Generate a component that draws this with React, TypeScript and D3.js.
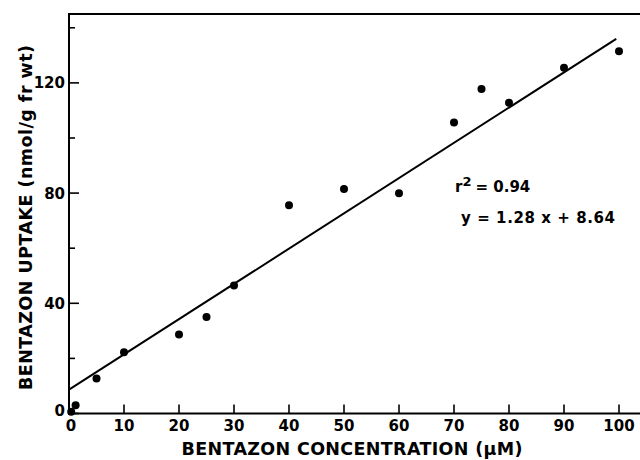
import * as d3 from "d3";
import { useEffect, useRef } from "react";

// concentration (µM) and uptake (nmol/g fr wt)
const concentration = [0.4, 1.2, 5, 10, 20, 25, 30, 40, 50, 60, 70, 75, 80, 90, 100];
const uptake = [0.6, 3, 12.7, 22.2, 28.7, 35, 46.5, 75.6, 81.5, 79.9, 105.6, 117.8, 112.8, 125.5, 131.5];

const xTicks = [0, 10, 20, 30, 40, 50, 60, 70, 80, 90, 100];
const yMajorTicks = [0, 40, 80, 120];
const yMinorTicks = [20, 60, 100, 140];

const slope = 1.28;
const intercept = 8.64;
const fitRange = [0, 99.5];

const W = 640;
const H = 460;
const FONT = "'DejaVu Sans', 'Liberation Sans', sans-serif";

export default function App() {
  const ref = useRef<SVGSVGElement | null>(null);

  useEffect(() => {
    const svg = d3.select(ref.current);
    svg.selectAll("*").remove();

    const x = d3.scaleLinear().domain([0, 100]).range([69, 619]);
    const y = d3.scaleLinear().domain([0, 145]).range([413.5, 14]);

    const g = svg.append("g").attr("stroke", "#000").attr("fill", "none");

    // frame: bottom axis, left axis, top border (right side cut off)
    g.append("path")
      .attr("stroke-width", 2)
      .attr("d", `M${W},${y(0)}H${x(0)}V${y(145)}H${W}`);

    // x ticks point inward
    g.selectAll("line.xt")
      .data(xTicks)
      .join("line")
      .attr("class", "xt")
      .attr("stroke-width", 1.6)
      .attr("x1", (d) => x(d))
      .attr("x2", (d) => x(d))
      .attr("y1", y(0))
      .attr("y2", y(0) - 9);

    g.selectAll("line.yt")
      .data(yMajorTicks)
      .join("line")
      .attr("class", "yt")
      .attr("stroke-width", 1.6)
      .attr("x1", x(0))
      .attr("x2", x(0) + 10)
      .attr("y1", (d) => y(d))
      .attr("y2", (d) => y(d));

    g.selectAll("line.ym")
      .data(yMinorTicks)
      .join("line")
      .attr("class", "ym")
      .attr("stroke-width", 1.6)
      .attr("x1", x(0))
      .attr("x2", x(0) + 6)
      .attr("y1", (d) => y(d))
      .attr("y2", (d) => y(d));

    // regression line
    const line = d3
      .line<number>()
      .x((d) => x(d))
      .y((d) => y(slope * d + intercept));
    g.append("path").attr("stroke-width", 2).attr("d", line(fitRange));

    // points
    svg
      .append("g")
      .selectAll("circle")
      .data(concentration)
      .join("circle")
      .attr("cx", (d) => x(d))
      .attr("cy", (_, i) => y(uptake[i]))
      .attr("r", 4)
      .attr("fill", "#000");

    const txt = svg
      .append("g")
      .attr("font-family", FONT)
      .attr("font-weight", "bold")
      .attr("fill", "#000");

    txt
      .selectAll("text.xl")
      .data(xTicks)
      .join("text")
      .attr("class", "xl")
      .attr("x", (d) => x(d) + (d === 0 ? 2 : 0))
      .attr("y", 431)
      .attr("text-anchor", "middle")
      .attr("font-size", 15)
      .text((d) => d);

    txt
      .selectAll("text.yl")
      .data(yMajorTicks)
      .join("text")
      .attr("class", "yl")
      .attr("x", 65)
      .attr("y", (d) => y(d) + (d === 0 ? 2 : 5.5))
      .attr("text-anchor", "end")
      .attr("font-size", 15)
      .text((d) => d);

    // axis titles
    txt
      .append("text")
      .attr("x", 352)
      .attr("y", 455)
      .attr("text-anchor", "middle")
      .attr("font-size", 17.5)
      .attr("textLength", 341)
      .attr("lengthAdjust", "spacing")
      .text("BENTAZON CONCENTRATION (µM)");

    txt
      .append("text")
      .attr("transform", `translate(32,217.5) rotate(-90)`)
      .attr("text-anchor", "middle")
      .attr("font-size", 17.5)
      .attr("textLength", 345)
      .attr("lengthAdjust", "spacing")
      .text("BENTAZON UPTAKE (nmol/g fr wt)");

    // annotation
    const r2 = txt.append("text").attr("x", 455).attr("y", 192).attr("font-size", 15);
    r2.append("tspan").text("r");
    r2.append("tspan").attr("dy", -6).attr("font-size", 13).text("2");
    r2.append("tspan").attr("dy", 6).attr("dx", 4).text("= 0.94");

    txt
      .append("text")
      .attr("x", 461)
      .attr("y", 223)
      .attr("font-size", 15)
      .attr("textLength", 154)
      .attr("lengthAdjust", "spacing")
      .text(`y = ${slope} x + ${intercept}`);
  }, []);

  return (
    <svg
      ref={ref}
      width={W}
      height={H}
      style={{ position: "absolute", left: 0, top: 0, background: "#fff" }}
    />
  );
}
